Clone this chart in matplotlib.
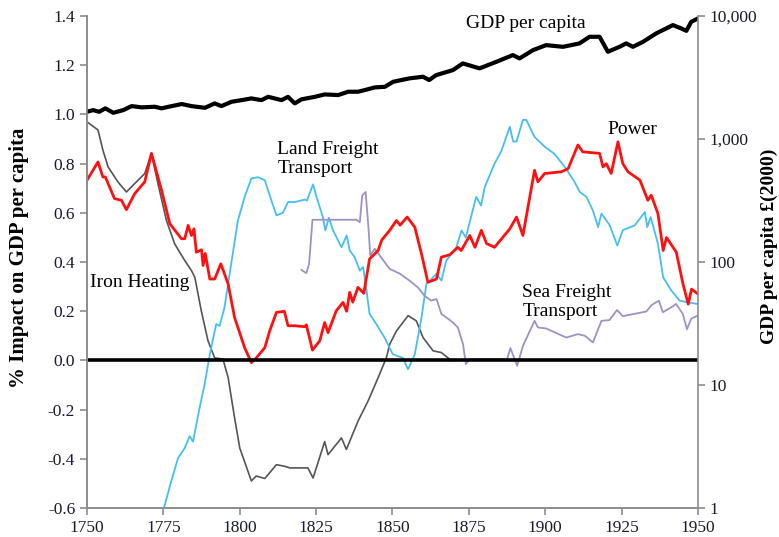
import matplotlib
matplotlib.use("Agg")
import matplotlib.pyplot as plt
from matplotlib.ticker import FixedLocator, FuncFormatter

plt.rcParams["font.family"] = ["Liberation Serif", "DejaVu Serif"]

# GDP per capita, £(2000), right log axis
gdp_years = [1750, 1752, 1754, 1756, 1758.6, 1761.9, 1764.6, 1767.9, 1772.2, 1774.4,
             1777.7, 1781, 1784.2, 1788.6, 1791.8, 1794, 1797.3, 1800.6, 1803.8, 1807.1,
             1809.3, 1813.7, 1815.8, 1818, 1820.2, 1824.6, 1827.8, 1832.2, 1835.5, 1838.7,
             1840.9, 1844.2, 1847.5, 1850.2, 1855.6, 1860, 1862, 1864.3, 1869.8, 1873,
             1878.5, 1884, 1889.4, 1891.6, 1896, 1900.3, 1905.8, 1911.2, 1914.5, 1917.8,
             1920.5, 1924.3, 1926.5, 1928.7, 1932, 1936.3, 1941.8, 1944.5, 1946.2, 1947.8,
             1950]
gdp_vals = [1667, 1721, 1667, 1778, 1636, 1721, 1854, 1811, 1832, 1778,
            1854, 1927, 1854, 1796, 1950, 1854, 2011, 2073, 2142, 2073,
            2207, 2073, 2207, 1950, 2104, 2207, 2308, 2280, 2427, 2427,
            2502, 2632, 2661, 2924, 3118, 3213, 3020, 3314, 3640, 4125,
            3758, 4250, 4820, 4530, 5290, 5808, 5627, 5998, 6790, 6790,
            5130, 5627, 5998, 5627, 6180, 7230, 8450, 7945, 7590, 8990,
            9575]

# Iron Heating (% impact)
iron_years = [1750, 1753.6, 1755.2, 1756.9, 1760.1, 1762.9, 1765.6, 1768.9, 1771.1, 1773.2,
              1776, 1778.7, 1782, 1784.2, 1785.3, 1787.4, 1789.6, 1791.8, 1794.5, 1796.2,
              1798.3, 1800, 1803.8, 1805.4, 1808.2, 1812, 1814.6, 1816.4, 1822.3, 1824,
              1827.8, 1828.9, 1833.3, 1834.9, 1838.7, 1842, 1845.3, 1848, 1849.1, 1851.3,
              1855.1, 1857.8, 1860, 1863.3, 1866, 1868.7, 1870]
iron_vals = [0.97, 0.937, 0.855, 0.787, 0.726, 0.685, 0.719, 0.76, 0.842, 0.72,
             0.569, 0.474, 0.406, 0.365, 0.338, 0.202, 0.08, 0.01, 0.006, -0.07,
             -0.233, -0.356, -0.49, -0.47, -0.48, -0.424, -0.43, -0.437, -0.437, -0.478,
             -0.33, -0.383, -0.315, -0.362, -0.247, -0.165, -0.07, 0.011, 0.066, 0.12,
             0.182, 0.161, 0.093, 0.039, 0.032, 0.005, 0.0]

# Power (% impact)
power_years = [1750, 1753.6, 1755.2, 1756, 1759, 1761.3, 1762.9, 1765.6, 1768.9, 1771.1,
               1774.4, 1777.1, 1780.9, 1782, 1783.1, 1784.2, 1785, 1785.8, 1787.5, 1788,
               1788.7, 1790.2, 1791.8, 1793.8, 1796.2, 1798.3, 1801.6, 1803.8, 1805.4, 1808.2,
               1809.8, 1812, 1814.6, 1815.8, 1818, 1821.3, 1821.8, 1823.8, 1826.2, 1827.8,
               1828.9, 1831.6, 1833.8, 1835, 1836, 1837, 1838.7, 1840.6, 1842.5, 1845.3,
               1846.5, 1849.1, 1851.3, 1852.5, 1854.8, 1857.3, 1859.5, 1861.6, 1864.4, 1866,
               1868.8, 1871.4, 1872.5, 1875.3, 1877, 1879.1, 1880.8, 1883.4, 1888.4, 1890.6,
               1892.7, 1896.5, 1897.6, 1899.8, 1905.3, 1907.5, 1910.7, 1912.3, 1917.8, 1918.9,
               1920, 1921.6, 1923.8, 1925.4, 1927.1, 1931, 1933.6, 1934.7, 1936.9, 1938.6,
               1939.7, 1942.9, 1945.1, 1946.8, 1947.9, 1950]
power_vals = [0.733, 0.807, 0.746, 0.746, 0.658, 0.651, 0.613, 0.678, 0.726, 0.842,
              0.692, 0.556, 0.495, 0.495, 0.549, 0.508, 0.535, 0.44, 0.45, 0.386,
              0.435, 0.331, 0.331, 0.393, 0.311, 0.175, 0.052, -0.009, 0.01, 0.052,
              0.12, 0.195, 0.2, 0.141, 0.141, 0.137, 0.145, 0.042, 0.08, 0.154,
              0.113, 0.202, 0.236, 0.2, 0.277, 0.237, 0.297, 0.273, 0.413, 0.447,
              0.49, 0.529, 0.569, 0.55, 0.583, 0.542, 0.433, 0.318, 0.331, 0.42,
              0.43, 0.46, 0.447, 0.508, 0.46, 0.529, 0.475, 0.46, 0.535, 0.583,
              0.508, 0.773, 0.726, 0.76, 0.767, 0.78, 0.876, 0.848, 0.842, 0.787,
              0.8, 0.76, 0.889, 0.8, 0.767, 0.733, 0.651, 0.672, 0.597, 0.447,
              0.5, 0.44, 0.311, 0.229, 0.29, 0.27]

# Land Freight Transport (% impact)
land_years = [1775.2, 1777.6, 1779.8, 1782, 1783.6, 1784.7, 1786.9, 1788.5, 1790.2, 1792.3,
              1793.4, 1795, 1797.2, 1799.4, 1801.6, 1803.8, 1806, 1808.2, 1809.8, 1812,
              1814.1, 1815.8, 1818, 1821.3, 1822, 1824, 1825, 1827.2, 1828, 1829.2,
              1830.5, 1833.3, 1835, 1836, 1837.6, 1839.3, 1840.4, 1841.5, 1842.5, 1844.7,
              1847.4, 1850.1, 1853.4, 1855.1, 1857.3, 1859.5, 1861.1, 1864.4, 1866, 1867.6,
              1870.9, 1872.6, 1874, 1877.4, 1879, 1880.2, 1883.4, 1885.6, 1888.4, 1889.5,
              1890.6, 1892.7, 1893.8, 1896.5, 1899.8, 1903, 1906.4, 1909.6, 1911.3, 1913.5,
              1915.6, 1917.3, 1918.4, 1921.1, 1923.6, 1925.4, 1929.3, 1932.6, 1933.4, 1934.5,
              1936.9, 1938.6, 1941.3, 1944, 1946.8, 1950]
land_vals = [-0.6, -0.49, -0.397, -0.356, -0.308, -0.33, -0.19, -0.097, 0.025, 0.148,
             0.14, 0.215, 0.393, 0.569, 0.665, 0.74, 0.745, 0.733, 0.671, 0.59,
             0.6, 0.644, 0.644, 0.654, 0.65, 0.716, 0.67, 0.583, 0.529, 0.58,
             0.53, 0.46, 0.508, 0.447, 0.42, 0.365, 0.38, 0.284, 0.189, 0.148,
             0.093, 0.025, 0.01, -0.036, 0.025, 0.175, 0.311, 0.352, 0.325, 0.406,
             0.46, 0.529, 0.5, 0.665, 0.63, 0.705, 0.80, 0.85, 0.95, 0.89,
             0.89, 0.978, 0.978, 0.909, 0.869, 0.84, 0.787, 0.726, 0.685, 0.665,
             0.61, 0.542, 0.597, 0.55, 0.467, 0.53, 0.549, 0.603, 0.542, 0.583,
             0.474, 0.338, 0.284, 0.243, 0.236, 0.229]

# Sea Freight Transport (% impact)
sea_years = [1820.2, 1821.8, 1822.7, 1823.8, 1838.2, 1839.3, 1840.1, 1841.2, 1842.2, 1842.7,
             1844.2, 1846.2, 1849.1, 1852.4, 1855.6, 1858.3, 1860.5, 1862.7, 1864.4, 1866,
             1867.6, 1869.8, 1871.4, 1873.1, 1874, 1875.3, 1878, 1887.5, 1888.6, 1890.8,
             1892.7, 1896.5, 1897.6, 1900.3, 1906.9, 1910.7, 1913, 1915.6, 1918.4, 1921,
             1923.5, 1925.4, 1933.1, 1934.8, 1937.2, 1938.5, 1941.8, 1942.8, 1945, 1946.4,
             1947.8, 1949.5, 1950]
sea_vals = [0.368, 0.355, 0.393, 0.572, 0.572, 0.562, 0.671, 0.685, 0.529, 0.427,
            0.454, 0.42, 0.372, 0.353, 0.324, 0.297, 0.263, 0.243, 0.25, 0.189,
            0.175, 0.154, 0.134, 0.066, -0.015, 0.005, 0.005, 0.005, 0.05, -0.022,
            0.059, 0.161, 0.134, 0.13, 0.093, 0.107, 0.1, 0.073, 0.161, 0.164,
            0.205, 0.18, 0.199, 0.225, 0.243, 0.196, 0.22, 0.23, 0.19, 0.127,
            0.17, 0.18, 0.18]

x_ticks = [1750, 1775, 1800, 1825, 1850, 1875, 1900, 1925, 1950]
left_ticks = [-0.6, -0.4, -0.2, 0.0, 0.2, 0.4, 0.6, 0.8, 1.0, 1.2, 1.4]
right_ticks = [1, 10, 100, 1000, 10000]

SPINE = "#8c8c8c"
TXT = "#1a1a2e"

fig = plt.figure(figsize=(7.79, 5.37), dpi=100)
ax = fig.add_axes([0.1117, 0.054, 0.7843, 0.916])
ax2 = ax.twinx()

ax.plot(iron_years, iron_vals, color="#555555", lw=1.2)
ax.plot(land_years, land_vals, color="#45bff0", lw=1.3)
ax.plot(sea_years, sea_vals, color="#a091c4", lw=1.3)
ax.plot(power_years, power_vals, color="#ff1010", lw=2.0)
ax.axhline(0.0, color="black", lw=2.6)

ax2.plot(gdp_years, gdp_vals, color="black", lw=3.0)
ax2.set_yscale("log")
ax2.set_ylim(1, 10000)

ax.set_xlim(1750, 1950)
ax.set_ylim(-0.6, 1.4)
ax.set_xticks(x_ticks)
ax.set_yticks(left_ticks)
ax.yaxis.set_major_formatter(FuncFormatter(lambda v, p: f"{v:.1f}"))
ax2.yaxis.set_major_locator(FixedLocator(right_ticks))
ax2.yaxis.set_minor_locator(FixedLocator([]))
ax2.yaxis.set_major_formatter(FuncFormatter(lambda v, p: f"{int(round(v)):,}"))

for a in (ax, ax2):
    a.spines["top"].set_visible(False)
    for s in ("left", "right", "bottom"):
        a.spines[s].set_color(SPINE)
        a.spines[s].set_linewidth(1.2)
    a.tick_params(colors=SPINE, labelcolor=TXT, labelsize=12.5, length=5, width=1.2)
ax.spines["right"].set_visible(False)

ax.set_ylabel("% Impact on GDP per capita", fontsize=15, fontweight="bold")
ax.yaxis.set_label_coords(-0.095, 0.509)
ax2.set_ylabel("GDP per capita £(2000)", fontsize=14, fontweight="bold", rotation=90)
ax2.yaxis.set_label_coords(1.102, 0.532)

ax.text(1893.8, 1.369, "GDP per capita", fontsize=14, ha="center", va="center")
ax.text(1928.5, 0.937, "Power", fontsize=14, ha="center", va="center")
ax.text(1812.3, 0.818, "Land Freight\nTransport", fontsize=14, ha="left", va="center",
        linespacing=1.15)
ax.text(1751.1, 0.318, "Iron Heating", fontsize=14, ha="left", va="center")
ax.text(1892.5, 0.237, "Sea Freight\nTransport", fontsize=14, ha="left", va="center",
        linespacing=1.15)

fig.savefig("out.png", dpi=100)
